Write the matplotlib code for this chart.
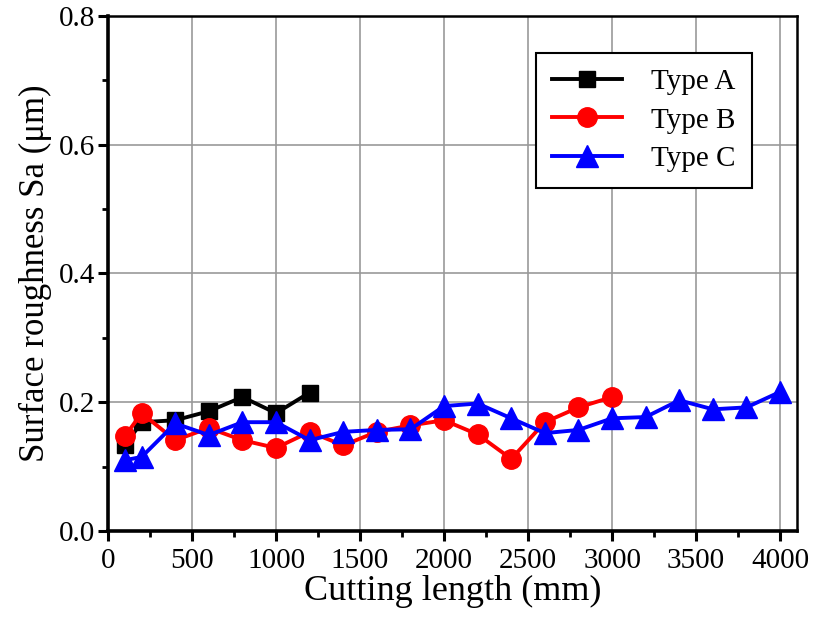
import matplotlib
matplotlib.use("Agg")
import matplotlib.pyplot as plt
from matplotlib.ticker import MultipleLocator

plt.rcParams['font.family'] = ['Liberation Serif', 'DejaVu Serif']

# data
len_a = [100, 200, 400, 600, 800, 1000, 1200]
sa_a = [0.133, 0.169, 0.172, 0.186, 0.208, 0.183, 0.215]

len_b = [100, 200, 400, 600, 800, 1000, 1200, 1400, 1600, 1800,
         2000, 2200, 2400, 2600, 2800, 3000]
sa_b = [0.147, 0.183, 0.141, 0.160, 0.141, 0.129, 0.154, 0.133, 0.154, 0.164,
        0.172, 0.150, 0.112, 0.169, 0.192, 0.208]

len_c = [100, 200, 400, 600, 800, 1000, 1200, 1400, 1600, 1800, 2000,
         2200, 2400, 2600, 2800, 3000, 3200, 3400, 3600, 3800, 4000]
sa_c = [0.110, 0.115, 0.167, 0.149, 0.169, 0.169, 0.141, 0.154, 0.157, 0.158, 0.194,
        0.198, 0.175, 0.152, 0.157, 0.175, 0.177, 0.203, 0.189, 0.192, 0.216]

fig = plt.figure(figsize=(8.14, 6.2), dpi=100)
ax = fig.add_axes([0.1327, 0.1435, 0.8463, 0.831])

ax.plot(len_a, sa_a, color='black', marker='s', markersize=12, lw=2.8, label='Type A', zorder=3)
ax.plot(len_b, sa_b, color='red', marker='o', markersize=14, lw=2.8, label='Type B', zorder=3)
ax.plot(len_c, sa_c, color='blue', marker='^', markersize=15.5, lw=2.8, label='Type C', zorder=4)

ax.set_xlim(0, 4100)
ax.set_ylim(0, 0.8)
ax.xaxis.set_major_locator(MultipleLocator(500))
ax.xaxis.set_minor_locator(MultipleLocator(250))
ax.yaxis.set_major_locator(MultipleLocator(0.2))
ax.yaxis.set_minor_locator(MultipleLocator(0.1))
ax.yaxis.set_major_formatter(matplotlib.ticker.FormatStrFormatter('%.1f'))
ax.grid(True, which='major', color='#999999', lw=1.2)
ax.set_axisbelow(True)

ax.tick_params(which='major', direction='out', length=7, width=2.2, labelsize=21, pad=2)
ax.tick_params(axis='x', which='major', pad=5)
ax.tick_params(which='minor', direction='out', length=4, width=2)
for side in ['left', 'bottom']:
    ax.spines[side].set_linewidth(2.6)
for side in ['top', 'right']:
    ax.spines[side].set_linewidth(1.8)

ax.set_xlabel('Cutting length (mm)', fontsize=26, labelpad=1)
ax.set_ylabel('Surface roughness Sa (\u03bcm)', fontsize=25, labelpad=5)

leg = ax.legend(loc='upper right', bbox_to_anchor=(0.956, 0.957), fontsize=21,
                fancybox=False, framealpha=1, edgecolor='black',
                handlelength=2.4, borderpad=0.55, labelspacing=0.42, handletextpad=1.0)
leg.get_frame().set_linewidth(1.5)

fig.savefig('out.png', dpi=100)
